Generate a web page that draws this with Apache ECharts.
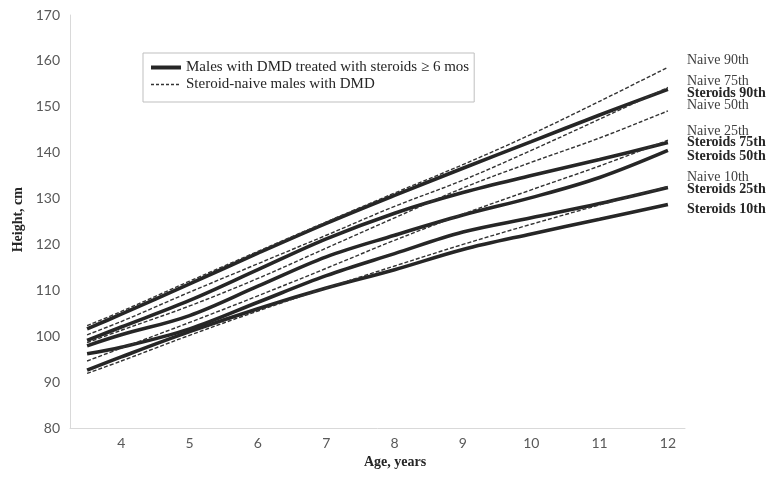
<!DOCTYPE html>
<html>
<head>
<meta charset="utf-8">
<script src="https://cdn.jsdelivr.net/npm/echarts@6/dist/echarts.min.js"></script>
<style>
  html, body { margin: 0; padding: 0; background: #fff; }
  #chart { width: 775px; height: 479px; }
</style>
</head>
<body>
<div id="chart"></div>
<script>
// ages (years)
const ages = [3.5, 4, 5, 6, 7, 8, 9, 10, 11, 12]

// steroid-treated percentiles (cm)
const steroids90 = [101.6, 104.8, 111.4, 118.1, 124.6, 130.7, 136.6, 142.4, 148.2, 153.8]
const steroids75 = [99.1, 102.0, 107.8, 114.5, 121.2, 126.8, 131.3, 135.0, 138.5, 142.2]
const steroids50 = [97.9, 100.3, 104.5, 110.9, 117.3, 122.0, 126.4, 130.2, 134.6, 140.5]
const steroids25 = [96.2, 97.6, 101.6, 107.4, 113.2, 118.0, 122.7, 125.8, 128.9, 132.4]
const steroids10 = [92.6, 95.5, 101.0, 106.0, 110.5, 114.5, 118.9, 122.3, 125.5, 128.7]

// steroid-naive percentiles (cm)
const naive90 = [102.3, 105.4, 112.0, 118.5, 124.9, 131.2, 137.4, 144.0, 151.2, 158.6]
const naive75 = [100.3, 103.2, 109.6, 115.8, 122.0, 128.3, 134.0, 140.5, 147.3, 154.2]
const naive50 = [98.6, 101.3, 106.6, 112.6, 119.2, 125.8, 132.3, 137.9, 143.2, 149.1]
const naive25 = [94.6, 97.4, 103.0, 108.8, 114.8, 120.9, 126.6, 131.9, 137.1, 142.7]
const naive10 = [91.9, 94.6, 100.2, 105.5, 110.5, 115.3, 120.0, 124.4, 128.6, 132.6]

const xTicks = [4, 5, 6, 7, 8, 9, 10, 11, 12]
const legendNames = ['Males with DMD treated with steroids \u2265 6 mos', 'Steroid-naive males with DMD']

// right-hand labels, top to bottom
const endLabels = [
  ['Naive 90th', false], ['Naive 75th', false], ['Steroids 90th', true], ['Naive 50th', false],
  ['Naive 25th', false], ['Steroids 75th', true], ['Steroids 50th', true],
  ['Naive 10th', false], ['Steroids 25th', true], ['Steroids 10th', true]
]
const endLabelTops = [53, 74, 86, 98, 124, 135, 149, 170, 182, 202]

const pairs = (ys) => ages.map((a, i) => [a, ys[i]])

const solidStyle = { color: '#262626', width: 3.6 }
const dashedStyle = { color: '#333', width: 1.4, type: [4, 2] }

const solid = (ys) => ({
  name: legendNames[0],
  type: 'line',
  smooth: 0.35,
  symbol: 'none',
  lineStyle: solidStyle,
  itemStyle: { color: '#262626' },
  z: 2,
  data: pairs(ys)
})
const dashed = (ys) => ({
  name: legendNames[1],
  type: 'line',
  smooth: 0.35,
  symbol: 'none',
  lineStyle: dashedStyle,
  itemStyle: { color: '#333' },
  z: 3,
  data: pairs(ys)
})

const chart = echarts.init(document.getElementById('chart'))

const option = {
  animation: false,
  backgroundColor: '#fff',
  grid: { left: 70, right: 90, top: 15, bottom: 51 },
  legend: {
    orient: 'vertical',
    left: 143,
    top: 53,
    padding: [6, 5, 9, 6],
    itemGap: 0,
    itemWidth: 30,
    itemHeight: 10,
    backgroundColor: '#fff',
    borderColor: '#bfbfbf',
    borderWidth: 1,
    itemStyle: { opacity: 0 },
    data: [
      { name: legendNames[0], lineStyle: { color: '#262626', width: 4 } },
      { name: legendNames[1], lineStyle: { color: '#333', width: 1.4, type: [3, 2] } }
    ],
    textStyle: { fontFamily: 'Liberation Serif', fontSize: 15, lineHeight: 17, color: '#262626' }
  },
  xAxis: {
    type: 'value',
    min: 3.25,
    max: 12.25,
    axisLine: { lineStyle: { color: '#d9d9d9', width: 1 } },
    axisTick: { show: false },
    splitLine: { show: false },
    axisLabel: {
      customValues: xTicks,
      color: '#595959',
      fontFamily: 'Lato',
      fontSize: 14,
      margin: 8
    }
  },
  yAxis: {
    type: 'value',
    min: 80,
    max: 170,
    interval: 10,
    axisLine: { show: true, lineStyle: { color: '#d9d9d9', width: 1 } },
    axisTick: { show: false },
    splitLine: { show: false },
    axisLabel: { color: '#595959', fontFamily: 'Lato', fontSize: 14, margin: 10 }
  },
  graphic: [
    {
      type: 'text',
      left: 11,
      top: 187,
      rotation: Math.PI / 2,
      style: {
        text: 'Height, cm',
        font: 'bold 14px "Liberation Serif"',
        fill: '#262626'
      }
    },
    {
      type: 'text',
      left: 364,
      top: 455,
      style: {
        text: 'Age, years',
        font: 'bold 14px "Liberation Serif"',
        fill: '#262626'
      }
    }
  ].concat(endLabels.map((l, i) => ({
    type: 'text',
    left: 687,
    top: endLabelTops[i],
    style: {
      text: l[0],
      font: (l[1] ? 'bold ' : '') + '14px "Liberation Serif"',
      fill: l[1] ? '#262626' : '#404040'
    }
  }))),
  series: [
    solid(steroids90), solid(steroids75), solid(steroids50), solid(steroids25), solid(steroids10),
    dashed(naive90), dashed(naive75), dashed(naive50), dashed(naive25), dashed(naive10)
  ]
}

chart.setOption(option)
</script>
</body>
</html>
